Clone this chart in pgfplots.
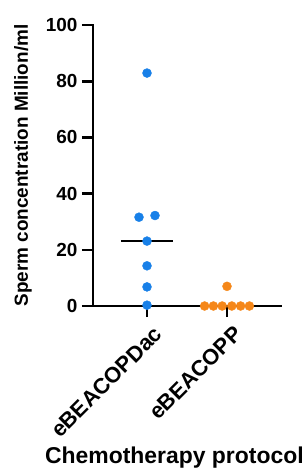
\documentclass[border=0pt]{standalone}
\usepackage{pgfplots}
\pgfplotsset{compat=1.18}
\usepackage{fontspec}
\setmainfont{Liberation Sans}
\definecolor{dotblue}{RGB}{24,128,232}
\definecolor{dotorange}{RGB}{245,135,25}
\begin{document}
\begin{tikzpicture}
\begin{axis}[
  at={(0,0)}, anchor=south west,
  scale only axis,
  width=188bp, height=281bp,
  xmin=0.325, xmax=2.675,
  ymin=0, ymax=100,
  axis lines*=left,
  axis line style={line width=2.6bp, line cap=rect},
  tick style={line width=2.6bp, black},
  tick align=outside,
  major tick length=11bp,
  xtick={1,2},
  xticklabels={eBEACOPDac, eBEACOPP},
  ytick={0,20,40,60,80,100},
  /pgf/number format/assume math mode=true,
  yticklabel style={font=\fontsize{19}{19}\selectfont\bfseries, xshift=-1bp},
  xticklabel style={rotate=45, anchor=north east, xshift=2bp, yshift=-6bp, font=\fontsize{22}{22}\selectfont\bfseries},
  clip=false,
  ylabel={Sperm concentration Million/ml},
  ylabel style={at={(axis description cs:-0.3723,0.5)}, anchor=center, font=\fontsize{19}{19}\selectfont\bfseries},
]
\addplot[only marks, mark=*, mark size=4.5bp, draw=dotblue, fill=dotblue] coordinates {
  (1,82.9) (0.9,31.6) (1.1,32.2) (1,23.1) (1,14.3) (1,6.8) (1,0.3)
};
\addplot[only marks, mark=*, mark size=4.5bp, draw=dotorange, fill=dotorange] coordinates {
  (2,7.0) (1.72,0) (1.83,0) (1.94,0) (2.06,0) (2.17,0) (2.28,0)
};
\addplot[black, line width=2.6bp] coordinates {(0.675,23.1) (1.325,23.1)};
\end{axis}
\node[anchor=base west, font=\fontsize{23}{23}\selectfont\bfseries, inner sep=0pt] at (-48bp,-157bp) {Chemotherapy protocol};
\pgfresetboundingbox
\path (-93bp,-167bp) rectangle (214bp,306bp);
\end{tikzpicture}
\end{document}
